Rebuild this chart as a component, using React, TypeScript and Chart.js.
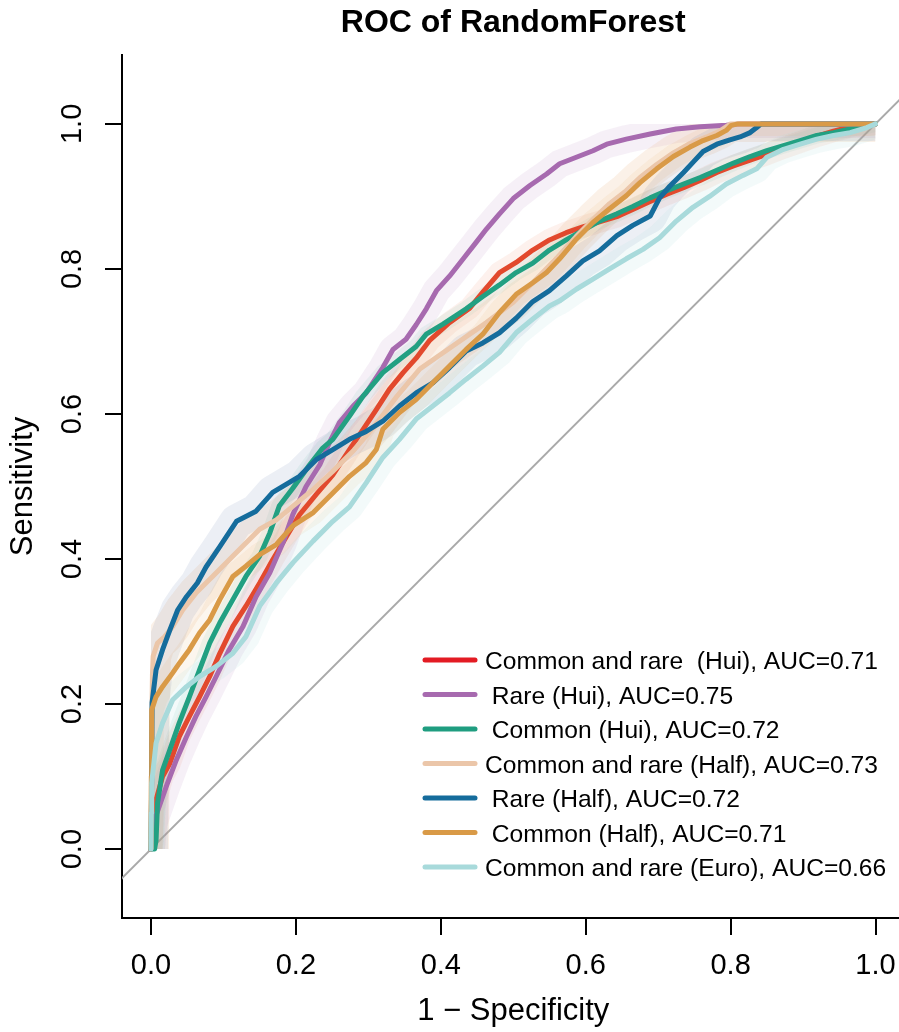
import React, { useEffect, useRef } from "react";
import { Chart, registerables } from "chart.js";

Chart.register(...registerables);

// ---------- data ----------
const chartTitle = "ROC of RandomForest";
const xAxisTitle = "1 \u2212 Specificity";
const yAxisTitle = "Sensitivity";

const xTicks = [0, 0.2, 0.4, 0.6, 0.8, 1.0];
const xTickLabels = ["0.0", "0.2", "0.4", "0.6", "0.8", "1.0"];
const yTicks = [0, 0.2, 0.4, 0.6, 0.8, 1.0];
const yTickLabels = ["0.0", "0.2", "0.4", "0.6", "0.8", "1.0"];

const seriesLabels = [
  "Common and rare  (Hui), AUC=0.71",
  " Rare (Hui), AUC=0.75",
  " Common (Hui), AUC=0.72",
  "Common and rare (Half), AUC=0.73",
  " Rare (Half), AUC=0.72",
  " Common (Half), AUC=0.71",
  "Common and rare (Euro), AUC=0.66",
];

const diagonalPoints = [-0.2, 1.2];
const rocBounds = [0, 1];

// Common and rare (Hui)
const redFpr = [0, 0.002, 0.003, 0.016, 0.026, 0.039, 0.053, 0.067, 0.081, 0.095, 0.113, 0.131, 0.15, 0.168, 0.187, 0.205, 0.228, 0.251, 0.274, 0.293, 0.311, 0.329, 0.348, 0.366, 0.385, 0.412, 0.44, 0.458, 0.481, 0.504, 0.527, 0.55, 0.573, 0.596, 0.619, 0.643, 0.665, 0.689, 0.712, 0.735, 0.758, 0.781, 0.804, 0.827, 0.85, 0.873, 0.896, 0.919, 0.942, 0.965, 1];
const redTpr = [0, 0.03, 0.054, 0.1, 0.118, 0.155, 0.183, 0.21, 0.238, 0.27, 0.307, 0.335, 0.367, 0.399, 0.431, 0.461, 0.489, 0.516, 0.551, 0.579, 0.606, 0.634, 0.657, 0.677, 0.702, 0.726, 0.746, 0.768, 0.795, 0.809, 0.826, 0.84, 0.85, 0.858, 0.865, 0.872, 0.882, 0.893, 0.903, 0.912, 0.922, 0.933, 0.942, 0.95, 0.958, 0.967, 0.975, 0.983, 0.99, 0.996, 1];

// Rare (Hui)
const purpleFpr = [0, 0.002, 0.003, 0.021, 0.035, 0.049, 0.062, 0.076, 0.09, 0.108, 0.127, 0.145, 0.164, 0.182, 0.196, 0.214, 0.233, 0.247, 0.26, 0.279, 0.297, 0.32, 0.334, 0.352, 0.366, 0.38, 0.394, 0.412, 0.431, 0.449, 0.463, 0.481, 0.5, 0.523, 0.546, 0.564, 0.587, 0.61, 0.629, 0.656, 0.689, 0.725, 0.758, 0.794, 0.813, 1];
const purpleTpr = [0, 0.02, 0.035, 0.086, 0.123, 0.155, 0.183, 0.21, 0.238, 0.275, 0.307, 0.348, 0.381, 0.422, 0.462, 0.5, 0.53, 0.562, 0.588, 0.611, 0.629, 0.664, 0.689, 0.703, 0.723, 0.745, 0.77, 0.79, 0.814, 0.837, 0.855, 0.876, 0.897, 0.915, 0.931, 0.945, 0.954, 0.963, 0.972, 0.979, 0.986, 0.993, 0.996, 0.998, 1, 1];

// Common (Hui)
const greenFpr = [0, 0.005, 0.007, 0.009, 0.016, 0.026, 0.039, 0.053, 0.067, 0.081, 0.095, 0.113, 0.131, 0.15, 0.164, 0.177, 0.196, 0.219, 0.237, 0.251, 0.274, 0.293, 0.32, 0.343, 0.366, 0.38, 0.403, 0.435, 0.458, 0.481, 0.504, 0.527, 0.55, 0.573, 0.596, 0.619, 0.643, 0.665, 0.689, 0.712, 0.735, 0.758, 0.781, 0.804, 0.827, 0.85, 0.873, 0.896, 0.919, 0.942, 0.965, 0.992, 1];
const greenTpr = [0, 0, 0.012, 0.063, 0.109, 0.137, 0.174, 0.21, 0.247, 0.284, 0.312, 0.344, 0.376, 0.404, 0.436, 0.473, 0.498, 0.53, 0.553, 0.565, 0.597, 0.625, 0.657, 0.675, 0.693, 0.71, 0.724, 0.745, 0.762, 0.778, 0.795, 0.808, 0.826, 0.84, 0.853, 0.866, 0.876, 0.886, 0.898, 0.908, 0.917, 0.926, 0.936, 0.946, 0.955, 0.963, 0.97, 0.977, 0.984, 0.988, 0.993, 0.998, 1];

// Common and rare (Half)
const peachFpr = [0, 0.001, 0.002, 0.003, 0.009, 0.019, 0.03, 0.044, 0.062, 0.085, 0.108, 0.131, 0.15, 0.173, 0.196, 0.224, 0.25, 0.28, 0.31, 0.34, 0.371, 0.417, 0.463, 0.5, 0.532, 0.56, 0.587, 0.61, 0.633, 0.656, 0.675, 0.698, 0.721, 0.744, 0.767, 0.785, 0.8, 1];
const peachTpr = [0, 0.16, 0.24, 0.266, 0.284, 0.293, 0.307, 0.33, 0.353, 0.376, 0.399, 0.422, 0.441, 0.454, 0.473, 0.496, 0.52, 0.55, 0.585, 0.625, 0.662, 0.694, 0.726, 0.754, 0.786, 0.815, 0.845, 0.868, 0.89, 0.908, 0.926, 0.944, 0.96, 0.973, 0.982, 0.99, 1, 1];

// Rare (Half)
const blueFpr = [0, 0.001, 0.0015, 0.007, 0.016, 0.026, 0.037, 0.049, 0.064, 0.076, 0.095, 0.118, 0.145, 0.168, 0.205, 0.228, 0.251, 0.274, 0.297, 0.32, 0.343, 0.366, 0.389, 0.412, 0.435, 0.458, 0.481, 0.504, 0.527, 0.55, 0.573, 0.596, 0.619, 0.643, 0.665, 0.689, 0.702, 0.716, 0.735, 0.748, 0.762, 0.781, 0.799, 0.813, 0.827, 0.836, 0.842, 1];
const blueTpr = [0, 0.1, 0.202, 0.247, 0.275, 0.302, 0.33, 0.348, 0.367, 0.389, 0.417, 0.452, 0.466, 0.492, 0.514, 0.537, 0.551, 0.565, 0.576, 0.59, 0.611, 0.629, 0.643, 0.664, 0.687, 0.698, 0.712, 0.732, 0.755, 0.77, 0.79, 0.811, 0.825, 0.846, 0.86, 0.873, 0.898, 0.914, 0.933, 0.947, 0.962, 0.972, 0.978, 0.982, 0.988, 0.995, 1, 1];

// Common (Half)
const goldFpr = [0, 0.0005, 0.001, 0.007, 0.016, 0.03, 0.039, 0.053, 0.067, 0.081, 0.095, 0.113, 0.131, 0.15, 0.173, 0.196, 0.224, 0.251, 0.274, 0.297, 0.311, 0.32, 0.343, 0.366, 0.389, 0.412, 0.435, 0.458, 0.481, 0.504, 0.527, 0.546, 0.564, 0.587, 0.61, 0.633, 0.656, 0.675, 0.698, 0.721, 0.744, 0.762, 0.781, 0.794, 0.801, 0.81, 1];
const goldTpr = [0, 0.1, 0.192, 0.21, 0.224, 0.243, 0.256, 0.275, 0.298, 0.316, 0.344, 0.376, 0.39, 0.406, 0.42, 0.446, 0.464, 0.491, 0.514, 0.533, 0.551, 0.579, 0.602, 0.62, 0.643, 0.666, 0.689, 0.71, 0.74, 0.765, 0.781, 0.795, 0.814, 0.841, 0.864, 0.883, 0.901, 0.919, 0.938, 0.955, 0.968, 0.977, 0.984, 0.991, 0.998, 1, 1];

// Common and rare (Euro)
const cyanFpr = [0, 0.0005, 0.001, 0.007, 0.016, 0.03, 0.049, 0.067, 0.09, 0.113, 0.131, 0.15, 0.173, 0.196, 0.224, 0.251, 0.274, 0.297, 0.32, 0.343, 0.366, 0.389, 0.412, 0.435, 0.458, 0.481, 0.504, 0.527, 0.55, 0.564, 0.587, 0.61, 0.633, 0.656, 0.679, 0.702, 0.725, 0.748, 0.771, 0.794, 0.817, 0.836, 0.85, 0.873, 0.896, 0.919, 0.942, 0.965, 0.988, 1];
const cyanTpr = [0, 0.05, 0.091, 0.146, 0.174, 0.206, 0.224, 0.238, 0.252, 0.27, 0.293, 0.335, 0.367, 0.395, 0.425, 0.452, 0.472, 0.505, 0.54, 0.565, 0.593, 0.611, 0.629, 0.648, 0.666, 0.685, 0.712, 0.731, 0.749, 0.756, 0.772, 0.786, 0.8, 0.814, 0.827, 0.843, 0.866, 0.885, 0.9, 0.917, 0.929, 0.938, 0.954, 0.965, 0.972, 0.979, 0.984, 0.988, 0.995, 1];

const seriesFpr = [redFpr, purpleFpr, greenFpr, peachFpr, blueFpr, goldFpr, cyanFpr];
const seriesTpr = [redTpr, purpleTpr, greenTpr, peachTpr, blueTpr, goldTpr, cyanTpr];

// ---------- styles ----------
const FONT = "'Liberation Sans', Arial, Helvetica, sans-serif";
const lineColors = ["#E2492D", "#A76AAF", "#22A082", "#EBC6A9", "#156C9C", "#D99A47", "#A8DADB"];
const legendColors = ["#E31B23", "#A76AAF", "#1F9D80", "#EBC6A9", "#156C9C", "#D99A47", "#A8DADB"];
const bandColors = [
  "rgba(235,120,80,0.10)",
  "rgba(167,106,175,0.10)",
  "rgba(34,160,130,0.07)",
  "rgba(235,190,150,0.22)",
  "rgba(40,80,140,0.09)",
  "rgba(217,154,71,0.09)",
  "rgba(168,218,219,0.14)",
];
const bandWidths = [22, 28, 16, 36, 34, 24, 28];

const toPoints = (xs: number[], ys: number[]) => xs.map((x, i) => ({ x, y: ys[i] }));

// confidence bands are kept inside the unit ROC square
const bandClipPlugin = {
  id: "bandClip",
  beforeDatasetDraw(chart: any, args: any) {
    const ds = chart.data.datasets[args.index];
    if (!ds.isBand) return;
    const { ctx, scales } = chart;
    const x0 = scales.x.getPixelForValue(rocBounds[0]);
    const x1 = scales.x.getPixelForValue(rocBounds[1]);
    const y0 = scales.y.getPixelForValue(rocBounds[0]);
    const y1 = scales.y.getPixelForValue(rocBounds[1]);
    ctx.save();
    ctx.beginPath();
    ctx.rect(x0, y1, x1 - x0, y0 - y1);
    ctx.clip();
  },
  afterDatasetDraw(chart: any, args: any) {
    const ds = chart.data.datasets[args.index];
    if (!ds.isBand) return;
    chart.ctx.restore();
  },
};

const legendAndLabelsPlugin = {
  id: "rLegendAndLabels",
  afterDraw(chart: any) {
    const { ctx, scales } = chart;
    const yScale = scales.y;
    ctx.save();
    // y tick labels (rotated, R style)
    ctx.fillStyle = "#000";
    ctx.font = `29px ${FONT}`;
    ctx.textAlign = "center";
    ctx.textBaseline = "middle";
    yTicks.forEach((v, i) => {
      const py = yScale.getPixelForValue(v);
      ctx.save();
      ctx.translate(73, py);
      ctx.rotate(-Math.PI / 2);
      ctx.fillText(yTickLabels[i], 0, 0);
      ctx.restore();
    });
    // legend
    const lx0 = 425;
    const lx1 = 475;
    const tx = 485;
    const y0 = 660;
    const dy = 34.5;
    ctx.font = `24.6px ${FONT}`;
    ctx.textAlign = "left";
    ctx.textBaseline = "alphabetic";
    seriesLabels.forEach((label, i) => {
      const y = y0 + i * dy;
      ctx.strokeStyle = legendColors[i];
      ctx.lineWidth = 5;
      ctx.lineCap = "round";
      ctx.beginPath();
      ctx.moveTo(lx0, y);
      ctx.lineTo(lx1, y);
      ctx.stroke();
      ctx.fillStyle = "#000";
      ctx.fillText(label, tx, y + 9);
    });
    ctx.restore();
  },
};

export default function App() {
  const canvasRef = useRef<HTMLCanvasElement | null>(null);

  useEffect(() => {
    if (!canvasRef.current) return;
    const datasets: any[] = [];
    datasets.push({
      label: "diagonal",
      data: toPoints(diagonalPoints, diagonalPoints),
      borderColor: "#A9A9A9",
      borderWidth: 2,
      pointRadius: 0,
      fill: false,
      order: 300,
    });
    seriesLabels.forEach((label, i) => {
      datasets.push({
        label: label + " band",
        isBand: true,
        data: toPoints(seriesFpr[i], seriesTpr[i]),
        borderColor: bandColors[i],
        borderWidth: bandWidths[i],
        borderJoinStyle: "round",
        borderCapStyle: "butt",
        pointRadius: 0,
        fill: false,
        order: 200 - i,
      });
    });
    seriesLabels.forEach((label, i) => {
      datasets.push({
        label,
        data: toPoints(seriesFpr[i], seriesTpr[i]),
        borderColor: lineColors[i],
        borderWidth: 5,
        borderJoinStyle: "round",
        borderCapStyle: "round",
        pointRadius: 0,
        fill: false,
        order: 100 - i,
      });
    });

    const chart = new Chart(canvasRef.current, {
      type: "line",
      data: { datasets },
      plugins: [bandClipPlugin, legendAndLabelsPlugin],
      options: {
        animation: false,
        responsive: false,
        events: [],
        layout: { padding: { top: 0, right: 35.5, bottom: 0, left: 0 } },
        plugins: {
          legend: { display: false },
          tooltip: { enabled: false },
          title: {
            display: true,
            text: chartTitle,
            fullSize: false,
            color: "#000",
            font: { family: FONT, size: 32, weight: "bold", lineHeight: 1.2 },
            padding: { top: 3.8, bottom: 12.8 },
          },
        },
        scales: {
          x: {
            type: "linear",
            min: -0.04,
            max: 1.04,
            afterFit: (s: any) => {
              s.height = 114;
            },
            afterBuildTicks: (s: any) => {
              s.ticks = xTicks.map((v) => ({ value: v }));
            },
            border: { display: true, color: "#000", width: 2 },
            grid: {
              drawOnChartArea: false,
              drawTicks: true,
              tickLength: 17,
              color: "#000",
              lineWidth: 2,
            },
            ticks: {
              autoSkip: false,
              maxRotation: 0,
              minRotation: 0,
              padding: 16,
              color: "#000",
              font: { family: FONT, size: 29, lineHeight: 1 },
              callback: (_v: any, idx: number) => xTickLabels[idx],
            },
            title: {
              display: true,
              text: xAxisTitle,
              color: "#000",
              font: { family: FONT, size: 31, lineHeight: 1 },
              padding: { top: 0, bottom: 5 },
            },
          },
          y: {
            type: "linear",
            min: -0.095,
            max: 1.095,
            afterFit: (s: any) => {
              s.width = 122;
            },
            afterBuildTicks: (s: any) => {
              s.ticks = yTicks.map((v) => ({ value: v }));
            },
            border: { display: true, color: "#000", width: 2 },
            grid: {
              drawOnChartArea: false,
              drawTicks: true,
              tickLength: 17,
              color: "#000",
              lineWidth: 2,
            },
            ticks: {
              display: false,
              autoSkip: false,
            },
            title: {
              display: true,
              text: yAxisTitle,
              color: "#000",
              font: { family: FONT, size: 31, lineHeight: 1 },
              padding: { top: 8, bottom: 0 },
            },
          },
        },
      } as any,
    });
    return () => chart.destroy();
  }, []);

  return (
    <div
      style={{
        position: "fixed",
        left: 0,
        top: 0,
        width: 899,
        height: 1032,
        overflow: "hidden",
        background: "#fff",
      }}
    >
      <canvas ref={canvasRef} width={940} height={1032} style={{ display: "block" }} />
    </div>
  );
}
